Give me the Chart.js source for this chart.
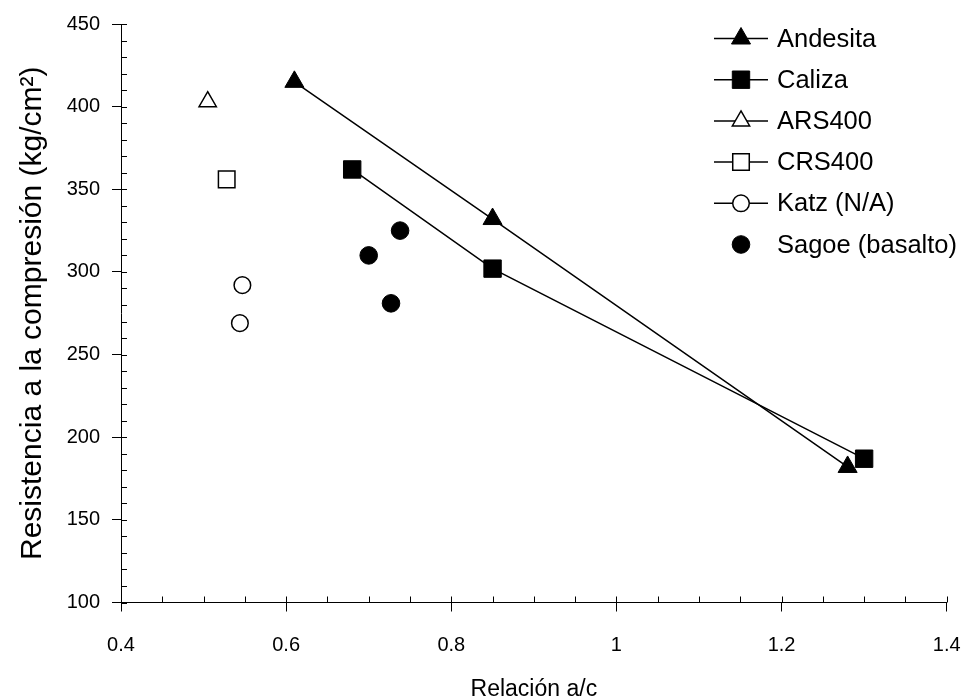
<!DOCTYPE html>
<html>
<head>
<meta charset="utf-8">
<script src="https://cdn.jsdelivr.net/npm/chart.js@4/dist/chart.umd.min.js"></script>
<style>
  html, body { margin: 0; padding: 0; background: #fff; }
  #wrap { width: 967px; height: 698px; position: relative; }
</style>
</head>
<body>
<div id="wrap"><canvas id="c" width="967" height="698"></canvas></div>
<script>
// ---- data ----
const seriesNames = ["Andesita", "Caliza", "ARS400", "CRS400", "Katz (N/A)", "Sagoe (basalto)"];
const andesitaX = [0.61, 0.85, 1.28];
const andesitaY = [415, 332, 182];
const calizaX = [0.68, 0.85, 1.30];
const calizaY = [362, 302, 187];
const ars400X = [0.505];
const ars400Y = [403];
const crs400X = [0.528];
const crs400Y = [356];
const katzX = [0.547, 0.544];
const katzY = [292, 269];
const sagoeX = [0.738, 0.70, 0.727];
const sagoeY = [325, 310, 281];

const xTicks = [0.4, 0.6, 0.8, 1.0, 1.2, 1.4];
const xTickLabels = ["0.4", "0.6", "0.8", "1", "1.2", "1.4"];
const yTicks = [100, 150, 200, 250, 300, 350, 400, 450];
const yTickLabels = ["100", "150", "200", "250", "300", "350", "400", "450"];
const xTitle = "Relación a/c";
const yTitle = "Resistencia a la compresión (kg/cm²)";

const FONT = "'Liberation Sans', Arial, Helvetica, sans-serif";

function pts(xs, ys) { return xs.map((x, i) => ({ x: x, y: ys[i] })); }

function ds(label, xs, ys, style, filled, showLine, legendLine, radius) {
  return {
    label: label,
    data: pts(xs, ys),
    showLine: showLine,
    borderColor: '#000',
    backgroundColor: filled ? '#000' : '#fff',
    borderWidth: 1.5,
    pointStyle: style,
    pointRadius: radius,
    pointHoverRadius: radius,
    pointBorderColor: '#000',
    pointBackgroundColor: filled ? '#000' : '#fff',
    pointBorderWidth: filled ? 1 : 1.5,
    legendLine: legendLine,
    filled: filled
  };
}

const datasets = [
  ds(seriesNames[0], andesitaX, andesitaY, 'triangle', true, true, true, 11),
  ds(seriesNames[1], calizaX, calizaY, 'rect', true, true, true, 12.3),
  ds(seriesNames[2], ars400X, ars400Y, 'triangle', false, false, true, 10),
  ds(seriesNames[3], crs400X, crs400Y, 'rect', false, false, true, 11.7),
  ds(seriesNames[4], katzX, katzY, 'circle', false, false, true, 8.3),
  ds(seriesNames[5], sagoeX, sagoeY, 'circle', true, false, false, 8.8)
];

function drawMarker(ctx, style, x, y, r, filled) {
  ctx.save();
  ctx.beginPath();
  if (style === 'triangle') {
    let rad = 0;
    ctx.moveTo(x + Math.sin(rad) * r, y - Math.cos(rad) * r);
    rad += 2 * Math.PI / 3;
    ctx.lineTo(x + Math.sin(rad) * r, y - Math.cos(rad) * r);
    rad += 2 * Math.PI / 3;
    ctx.lineTo(x + Math.sin(rad) * r, y - Math.cos(rad) * r);
    ctx.closePath();
  } else if (style === 'rect') {
    const s = Math.SQRT1_2 * r;
    ctx.rect(x - s, y - s, 2 * s, 2 * s);
  } else {
    ctx.arc(x, y, r, 0, Math.PI * 2);
  }
  ctx.fillStyle = filled ? '#000' : '#fff';
  ctx.fill();
  ctx.strokeStyle = '#000';
  ctx.lineWidth = filled ? 1 : 1.5;
  ctx.stroke();
  ctx.restore();
}

// Inside tick marks (major and minor), drawn via the chart's own scales
const tickPlugin = {
  id: 'insideTicks',
  afterDraw(chart) {
    const ctx = chart.ctx;
    const xs = chart.scales.x, ys = chart.scales.y;
    const axisY = ys.getPixelForValue(ys.min);
    const axisX = xs.getPixelForValue(xs.min);
    ctx.save();
    ctx.strokeStyle = '#000';
    ctx.lineWidth = 1;
    ctx.beginPath();
    for (let v = 100; v <= 450.001; v += 10) {
      const py = Math.round(ys.getPixelForValue(v)) + 0.5;
      ctx.moveTo(axisX, py);
      ctx.lineTo(axisX + 6, py);
    }
    for (let k = 0; k <= 20; k++) {
      const v = 0.4 + k * 0.05;
      const px = Math.round(xs.getPixelForValue(v)) + 0.5;
      ctx.moveTo(px, axisY);
      ctx.lineTo(px, axisY - 6);
    }
    ctx.stroke();
    ctx.restore();
  }
};

// Custom legend (line + marker + text), Excel style
const legendPlugin = {
  id: 'excelLegend',
  afterDraw(chart) {
    const ctx = chart.ctx;
    const x0 = 714, x1 = 768, xm = 741, tx = 777;
    let y = 38.5;
    const step = 41.2;
    ctx.save();
    ctx.font = "25.5px " + FONT;
    ctx.textBaseline = 'middle';
    ctx.textAlign = 'left';
    chart.data.datasets.forEach((d) => {
      if (d.legendLine) {
        ctx.beginPath();
        ctx.strokeStyle = '#000';
        ctx.lineWidth = 1.5;
        ctx.moveTo(x0, y);
        ctx.lineTo(x1, y);
        ctx.stroke();
      }
      drawMarker(ctx, d.pointStyle, xm, y, d.pointRadius, d.filled);
      ctx.fillStyle = '#000';
      ctx.fillText(d.label, tx, y + 1);
      y += step;
    });
    ctx.restore();
  }
};

new Chart(document.getElementById('c'), {
  type: 'scatter',
  data: { datasets: datasets },
  options: {
    responsive: false,
    animation: false,
    devicePixelRatio: 1,
    layout: { padding: { left: 0, top: 23, right: 20.3, bottom: 0 } },
    plugins: {
      legend: { display: false },
      tooltip: { enabled: false }
    },
    elements: { line: { tension: 0 } },
    scales: {
      x: {
        type: 'linear',
        min: 0.4, max: 1.4,
        afterBuildTicks(scale) { scale.ticks = xTicks.map(v => ({ value: v })); },
        afterFit(scale) { scale.height = 95.5; scale.paddingRight = 0; scale.paddingLeft = 0; },
        ticks: {
          color: '#000',
          padding: 22,
          maxRotation: 0,
          font: { family: FONT, size: 20 },
          callback: (v) => { const i = xTicks.findIndex(t => Math.abs(t - v) < 1e-9); return i >= 0 ? xTickLabels[i] : ''; }
        },
        grid: { display: true, drawOnChartArea: false, drawTicks: true, tickLength: 9, color: '#000', lineWidth: 1 },
        border: { display: true, color: '#000', width: 1 },
        title: { display: true, text: xTitle, color: '#000', font: { family: FONT, size: 23, lineHeight: 1 }, padding: { top: 0, bottom: -3 } }
      },
      y: {
        type: 'linear',
        min: 100, max: 450,
        afterBuildTicks(scale) { scale.ticks = yTicks.map(v => ({ value: v })); },
        afterFit(scale) { scale.width = 121; },
        ticks: {
          color: '#000',
          padding: 12,
          font: { family: FONT, size: 20 },
          callback: (v) => { const i = yTicks.indexOf(v); return i >= 0 ? yTickLabels[i] : ''; }
        },
        grid: { display: true, drawOnChartArea: false, drawTicks: true, tickLength: 9, color: '#000', lineWidth: 1 },
        border: { display: true, color: '#000', width: 1 },
        title: { display: true, text: yTitle, color: '#000', font: { family: FONT, size: 30, lineHeight: 1 }, padding: { top: 18, bottom: 0 } }
      }
    }
  },
  plugins: [tickPlugin, legendPlugin]
});
</script>
</body>
</html>
